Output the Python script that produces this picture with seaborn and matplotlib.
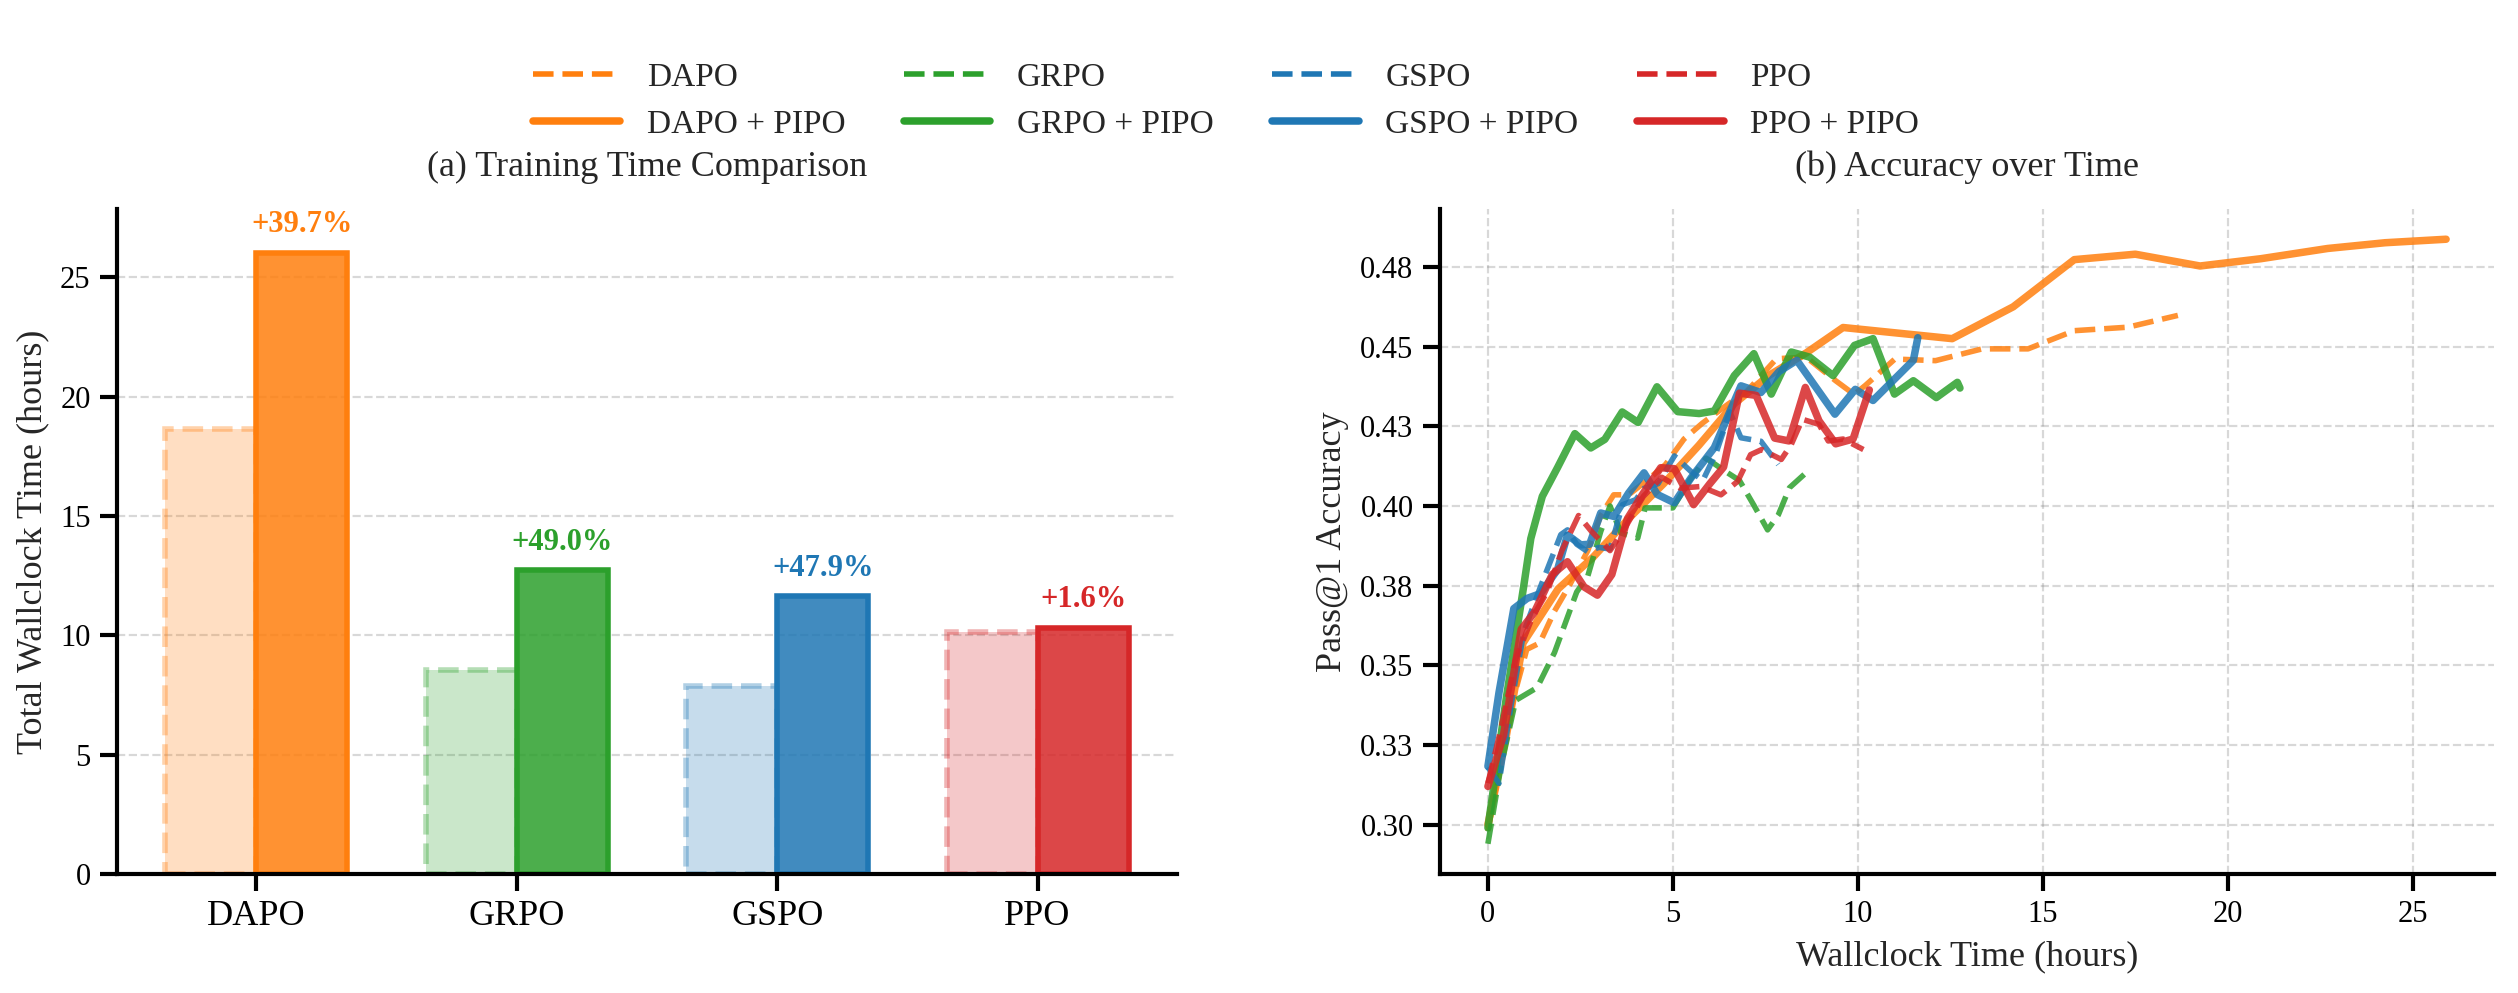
import matplotlib
matplotlib.use("Agg")
import matplotlib.pyplot as plt
import numpy as np
import pandas as pd
import seaborn as sns
from matplotlib.colors import to_rgba
from matplotlib.lines import Line2D

# ==========================
# DATA
# ==========================
methods = ["DAPO", "GRPO", "GSPO", "PPO"]
method_colors = ["#ff7f0e", "#2ca02c", "#1f77b4", "#d62728"]

# total wallclock time (hours)
time_base = [18.64, 8.55, 7.87, 10.16]
time_pipo = [26.04, 12.74, 11.64, 10.32]

# accuracy over time (hours, pass@1)
dapo_t = [0, 0.35, 0.7, 1.05, 1.4, 1.8, 2.2, 2.7, 3.05, 3.4, 3.8, 4.3, 4.8, 5.3, 5.8, 6.5,
          7.0, 7.8, 8.6, 9.4, 9.9, 10.2, 11.0, 12.1, 13.36, 14.6, 15.85, 17.3, 18.65]
dapo_acc = [0.298, 0.32, 0.34, 0.355, 0.357, 0.367, 0.375, 0.386, 0.397, 0.4035, 0.4035, 0.408,
            0.413, 0.421, 0.426, 0.432, 0.436, 0.4462, 0.4467, 0.4393, 0.435, 0.4378, 0.4461,
            0.4456, 0.4493, 0.4493, 0.455, 0.4561, 0.4598]
dapo_pipo_t = [0, 0.5, 0.95, 1.9, 2.85, 3.8, 4.75, 5.7, 6.65, 7.6, 8.6, 9.6, 12.55, 14.2,
               15.85, 17.5, 19.25, 20.9, 22.7, 24.25, 25.9]
dapo_pipo_acc = [0.300, 0.328, 0.357, 0.374, 0.384, 0.396, 0.407, 0.419, 0.432, 0.441, 0.448,
                 0.456, 0.4525, 0.4625, 0.4773, 0.479, 0.4753, 0.4776, 0.4808, 0.4826, 0.4837]

grpo_t = [0, 0.35, 0.75, 1.33, 1.8, 2.4, 2.7, 3.05, 3.3, 3.6, 4.05, 4.25, 5.0, 5.45, 5.9,
          6.4, 6.8, 7.2, 7.56, 7.85, 8.15, 8.55]
grpo_acc = [0.294, 0.318, 0.339, 0.343, 0.354, 0.373, 0.378, 0.392, 0.400, 0.3915, 0.3899,
            0.3994, 0.3994, 0.408, 0.415, 0.411, 0.408, 0.400, 0.3925, 0.3972, 0.4057, 0.4099]
grpo_pipo_t = [0, 0.5, 0.97, 1.16, 1.47, 1.88, 2.35, 2.78, 3.16, 3.63, 4.06, 4.57, 5.13, 5.71,
               6.12, 6.66, 7.19, 7.66, 8.2, 8.7, 9.33, 9.91, 10.41, 10.99, 11.5, 12.12, 12.69, 12.76]
grpo_pipo_acc = [0.299, 0.34, 0.375, 0.3898, 0.403, 0.412, 0.4227, 0.4182, 0.4209, 0.4295,
                 0.4262, 0.4374, 0.4296, 0.429, 0.4298, 0.4409, 0.4478, 0.4351, 0.4483, 0.4467,
                 0.4409, 0.4504, 0.4525, 0.4351, 0.4393, 0.434, 0.4388, 0.437]

gspo_t = [0, 0.3, 0.6, 0.97, 1.4, 1.97, 2.15, 2.4, 2.69, 3.0, 3.3, 3.64, 4.0, 4.22, 4.6, 5.04,
          5.49, 5.81, 6.17, 6.54, 6.84, 7.38, 7.85]
gspo_acc = [0.318, 0.313, 0.3356, 0.3605, 0.374, 0.391, 0.3925, 0.388, 0.3857, 0.387, 0.3865,
            0.4004, 0.402, 0.4055, 0.407, 0.4157, 0.4108, 0.408, 0.4167, 0.4295, 0.4214, 0.4203,
            0.413]
gspo_pipo_t = [0, 0.3, 0.7, 1.06, 1.42, 1.88, 2.15, 2.51, 2.75, 3.05, 3.41, 3.8, 4.22, 4.58,
               5.04, 5.49, 6.12, 6.84, 7.38, 7.87, 8.35, 9.38, 9.93, 10.41, 11.5, 11.62]
gspo_pipo_acc = [0.3183, 0.3415, 0.3678, 0.371, 0.3725, 0.380, 0.3909, 0.3878, 0.388, 0.3978,
                 0.3967, 0.404, 0.4104, 0.4036, 0.401, 0.4088, 0.4183, 0.4377, 0.4356, 0.4422,
                 0.4457, 0.4288, 0.4366, 0.4331, 0.4457, 0.4528]

ppo_t = [0, 0.35, 0.75, 1.2, 1.6, 2.0, 2.45, 2.8, 3.3, 3.7, 4.2, 4.7, 5.2, 5.75, 6.3, 6.75,
         7.1, 7.4, 7.93, 8.2, 8.5, 8.95, 9.2, 9.6, 10.15]
ppo_acc = [0.313, 0.33, 0.352, 0.365, 0.373, 0.386, 0.397, 0.392, 0.386, 0.393, 0.403, 0.409,
           0.4056, 0.4061, 0.4035, 0.4077, 0.4161, 0.4177, 0.4146, 0.4193, 0.4272, 0.4256,
           0.4204, 0.421, 0.4177]
ppo_pipo_t = [0, 0.42, 0.9, 1.25, 1.74, 2.15, 2.6, 2.96, 3.35, 3.77, 4.2, 4.67, 5.04, 5.56,
              6.0, 6.37, 6.8, 7.25, 7.75, 8.14, 8.58, 8.95, 9.4, 9.87, 10.31]
ppo_pipo_acc = [0.312, 0.328, 0.3613, 0.3665, 0.3785, 0.3825, 0.3746, 0.372, 0.3785, 0.396,
                0.404, 0.412, 0.4117, 0.4004, 0.407, 0.4122, 0.4354, 0.4347, 0.4213, 0.4204,
                0.4372, 0.4267, 0.4195, 0.421, 0.4364]

acc_ticks = [0.300, 0.325, 0.350, 0.375, 0.400, 0.425, 0.450, 0.475]
acc_tick_labels = ["0.30", "0.33", "0.35", "0.38", "0.40", "0.43", "0.45", "0.48"]

curves = [
    ("DAPO", dapo_t, dapo_acc, dapo_pipo_t, dapo_pipo_acc),
    ("GRPO", grpo_t, grpo_acc, grpo_pipo_t, grpo_pipo_acc),
    ("GSPO", gspo_t, gspo_acc, gspo_pipo_t, gspo_pipo_acc),
    ("PPO", ppo_t, ppo_acc, ppo_pipo_t, ppo_pipo_acc),
]

# ==========================
# STYLE
# ==========================
sns.set_theme(style="ticks")
plt.rcParams["font.family"] = ["Liberation Serif", "DejaVu Serif"]
plt.rcParams["axes.linewidth"] = 1.5
plt.rcParams["xtick.major.width"] = 1.5
plt.rcParams["ytick.major.width"] = 1.5
plt.rcParams["xtick.color"] = "black"
plt.rcParams["ytick.color"] = "black"
plt.rcParams["axes.edgecolor"] = "black"

fig = plt.figure(figsize=(12.59, 4.965), dpi=200)
W, H = 2518, 993
ax1 = fig.add_axes([117 / W, 1 - 874 / H, 1060 / W, 665 / H])
ax2 = fig.add_axes([1440 / W, 1 - 874 / H, 1054 / W, 665 / H])

# ==========================
# (a) BARS
# ==========================
df_bar = pd.DataFrame({
    "method": methods * 2,
    "variant": ["base"] * 4 + ["pipo"] * 4,
    "hours": time_base + time_pipo,
})
sns.barplot(data=df_bar, x="method", y="hours", hue="variant", width=0.7,
            ax=ax1, legend=False, errorbar=None)

for bar, c in zip(ax1.containers[0], method_colors):
    bar.set_facecolor(to_rgba(c, 0.25))
    bar.set_edgecolor(to_rgba(c, 0.35))
    bar.set_linestyle("--")
    bar.set_linewidth(2)
for bar, c in zip(ax1.containers[1], method_colors):
    bar.set_facecolor(to_rgba(c, 0.85))
    bar.set_edgecolor(c)
    bar.set_linewidth(2)

ymax = max(time_pipo) * 1.07
for bar, b, p, c in zip(ax1.containers[1], time_base, time_pipo, method_colors):
    pct = (p / b - 1) * 100
    ax1.text(bar.get_x() + bar.get_width() / 2, p + 0.02 * ymax, f"+{pct:.1f}%",
             ha="center", va="bottom", color=c, fontsize=11, fontweight="bold")

ax1.set_xlim(-0.535, len(methods) - 1 + 0.535)
ax1.set_ylim(0, ymax)
ax1.set_xlabel("")
ax1.set_ylabel("Total Wallclock Time (hours)", fontsize=13)
ax1.set_title("(a) Training Time Comparison", fontsize=13, pad=12)
ax1.tick_params(axis="x", labelsize=13)
ax1.tick_params(axis="y", labelsize=11)
ax1.yaxis.grid(True, linestyle="--", linewidth=0.8, alpha=0.3, color="grey")
ax1.set_axisbelow(True)
sns.despine(ax=ax1)

# ==========================
# (b) LINES
# ==========================
handles = []
for (name, t_b, a_b, t_p, a_p), c in zip(curves, method_colors):
    sns.lineplot(x=t_b, y=a_b, ax=ax2, color=c, linestyle="--", linewidth=2.0,
                 alpha=0.85, estimator=None, sort=False)
    sns.lineplot(x=t_p, y=a_p, ax=ax2, color=c, linestyle="-", linewidth=2.7,
                 alpha=0.85, estimator=None, sort=False)
    handles.append(Line2D([0], [0], color=c, linestyle="--", linewidth=2.0, label=name))
    handles.append(Line2D([0], [0], color=c, linestyle="-", linewidth=2.7, label=f"{name} + PIPO"))

ax2.set_yticks(acc_ticks)
ax2.set_yticklabels(acc_tick_labels)
ax2.set_xticks([0, 5, 10, 15, 20, 25])
ax2.set_xlabel("Wallclock Time (hours)", fontsize=13)
ax2.set_ylabel("Pass@1 Accuracy", fontsize=13)
ax2.set_title("(b) Accuracy over Time", fontsize=13, pad=12)
ax2.tick_params(labelsize=11)
ax2.grid(True, linestyle="--", linewidth=0.8, alpha=0.3, color="grey")
ax2.set_axisbelow(True)
sns.despine(ax=ax2)

fig.legend(handles=handles, loc="center", bbox_to_anchor=(0.487, 0.898), ncol=4,
           frameon=False, fontsize=12, handlelength=2.6, columnspacing=1.75)

fig.savefig("out.png", dpi=200)
